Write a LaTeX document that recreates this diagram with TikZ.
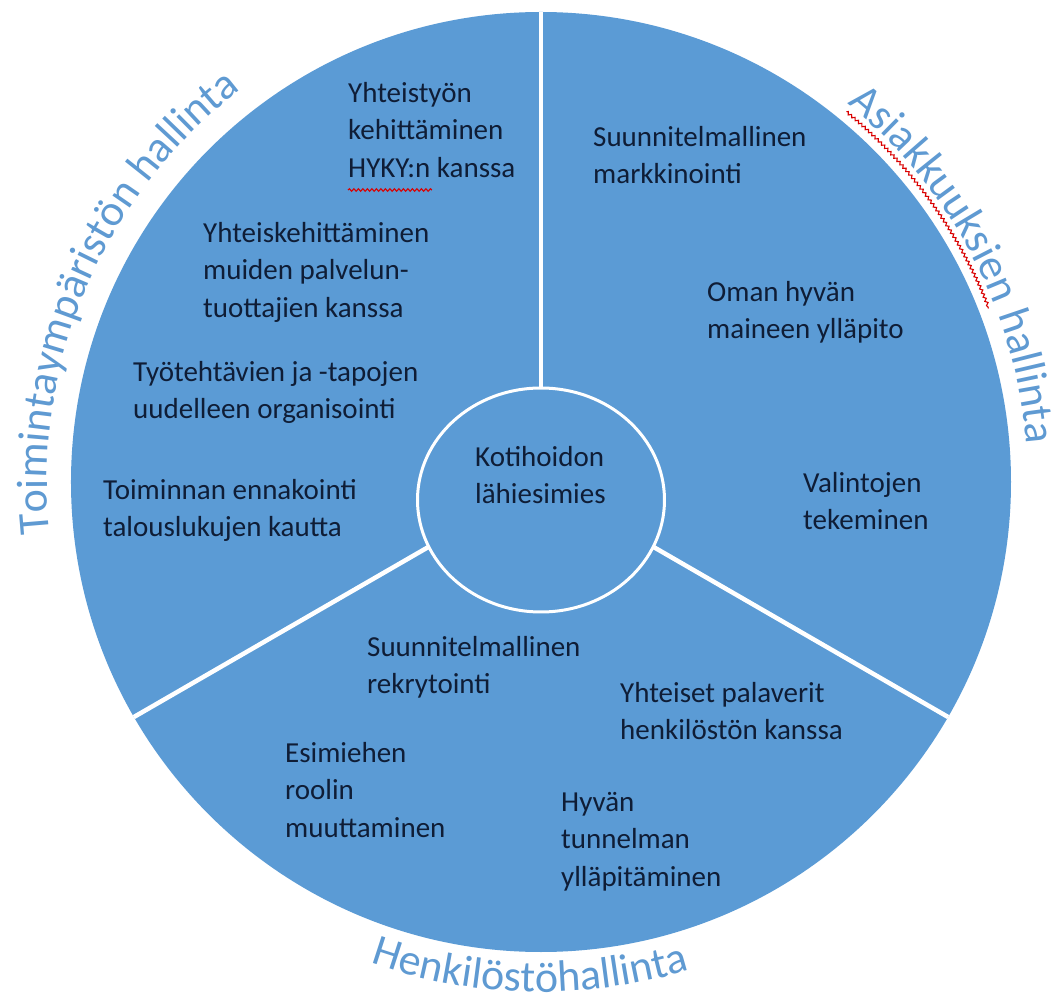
\documentclass[tikz,border=0pt]{standalone}
\usepackage{fontspec}
\setmainfont{Carlito}
\usepackage{xcolor}
\usetikzlibrary{shapes.geometric,decorations.text,decorations.pathmorphing}

\definecolor{wheelblue}{HTML}{5B9BD5}
\definecolor{inktext}{HTML}{0F1D36}
\definecolor{rimblue}{HTML}{5F9AD2}
\newcommand{\itemfont}{\fontsize{29}{37.5}\selectfont}
\newcommand{\rimfont}{\fontsize{44}{50}\selectfont}

\begin{document}
\begin{tikzpicture}[x=1pt,y=1pt,
    divider/.style={draw=white,line width=4.5},
    spell/.style={draw=red!85!black,line width=1.1,decorate,
        decoration={snake,amplitude=1.3,segment length=4.5}},
    rim/.style={decorate,decoration={text along path,text align=left,
        text={|\rimfont\color{rimblue}|#1}}}]
                \useasboundingbox (-541,-519) rectangle (512,482);
                % wheel and sector lines
                \node[circle,fill=wheelblue,minimum size=940,inner sep=0] (wheel) at (0,0) {};
                \draw[divider] (wheel.center) -- (wheel.90);
                \draw[divider] (wheel.center) -- (wheel.210);
                \draw[divider] (wheel.center) -- (wheel.330);
                \node[ellipse,draw=white,line width=3,fill=wheelblue,
                    minimum width=247,minimum height=224,inner sep=0] (hub) at (0,-18) {};
                \begin{scope}[every node/.style={anchor=north west,inner sep=0,align=left,
                    font=\itemfont,text=inktext,execute at begin node=\strut}]
                    \node (1) at (-66,36) {Kotihoidon\\lähiesimies};
                    \node (2) at (-193,400) {Yhteistyön\\kehittäminen\\HYKY:n kanssa};
                    \node (3) at (-338,260) {Yhteiskehittäminen\\muiden palvelun-\\tuottajien kanssa};
                    \node (4) at (-408,121) {Työtehtävien ja -tapojen\\uudelleen organisointi};
                    \node (5) at (-438,3) {Toiminnan ennakointi\\talouslukujen kautta};
                    \node (6) at (52,356) {Suunnitelmallinen\\markkinointi};
                    \node (7) at (166,201) {Oman hyvän\\maineen ylläpito};
                    \node (8) at (262,10) {Valintojen\\tekeminen};
                    \node (9) at (-174,-154) {Suunnitelmallinen\\rekrytointi};
                    \node (10) at (79,-200) {Yhteiset palaverit\\henkilöstön kanssa};
                    \node (11) at (-256,-260) {Esimiehen\\roolin\\muuttaminen};
                    \node (12) at (20,-310) {Hyvän\\tunnelman\\ylläpitäminen};
                \end{scope}
                % curved sector titles
                \path[rim={Toimintaympäristön hallinta}] (186:494) arc[start angle=186,end angle=118,radius=494];
                \path[rim={Asiakkuuksien hallinta}] (51:487) arc[start angle=51,end angle=-8,radius=487];
                \path[rim={Henkilöstöhallinta}] (250.5:510) arc[start angle=250.5,end angle=296,radius=510];
                % spell check marks
                \draw[spell] (-193,292) -- (-109,292);
                \draw[spell] (50.5:480) arc[start angle=50.5,end angle=21.2,radius=480];
            \end{tikzpicture}
\end{document}
